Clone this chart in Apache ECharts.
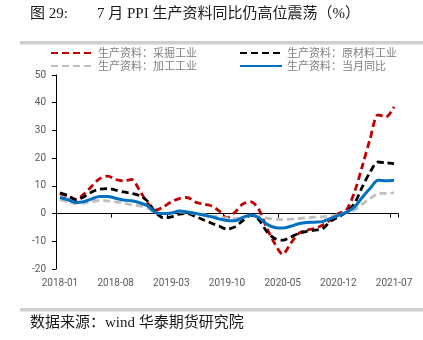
<!DOCTYPE html>
<html>
<head>
<meta charset="utf-8">
<script src="https://cdn.jsdelivr.net/npm/echarts@6/dist/echarts.min.js"></script>
<style>
html,body{margin:0;padding:0;background:#fff;}
#chart{width:423px;height:340px;}
</style>
</head>
<body>
<div id="chart"></div>
<script>
const categories = [
  '2018-01','2018-02','2018-03','2018-04','2018-05','2018-06','2018-07','2018-08','2018-09','2018-10','2018-11','2018-12',
  '2019-01','2019-02','2019-03','2019-04','2019-05','2019-06','2019-07','2019-08','2019-09','2019-10','2019-11','2019-12',
  '2020-01','2020-02','2020-03','2020-04','2020-05','2020-06','2020-07','2020-08','2020-09','2020-10','2020-11','2020-12',
  '2021-01','2021-02','2021-03','2021-04','2021-05','2021-06','2021-07'
];
const mining = [7.2,6.3,5.1,7.0,9.9,12.6,13.5,12.3,11.8,12.3,8.4,3.9,
  1.2,2.4,4.2,5.4,5.8,4.2,3.4,2.8,1.0,-1.5,0.5,3.5,
  4.2,1.5,-5.2,-10.8,-14.7,-10.8,-7.2,-6.0,-5.4,-4.2,-2.2,0.0,
  1.2,7.5,17.0,27.0,35.6,34.9,38.5];
const rawMaterial = [7.5,6.5,5.0,6.0,7.8,8.8,9.0,8.5,7.8,7.3,6.5,4.5,
  0.5,-1.5,-1.2,-0.2,0.0,-1.0,-2.2,-3.4,-4.5,-5.6,-4.8,-2.5,
  -0.6,-2.2,-6.5,-9.0,-9.6,-8.5,-7.2,-6.4,-6.0,-5.5,-2.8,-1.2,
  0.5,3.5,9.5,15.0,18.6,18.3,18.0];
const processing = [5.0,4.2,3.6,3.8,4.3,4.7,4.6,4.2,3.8,3.2,2.8,2.0,
  0.3,0.0,0.1,0.6,0.4,0.0,-0.3,-0.8,-1.2,-1.6,-1.8,-1.3,
  -0.6,-1.0,-1.6,-2.0,-2.2,-2.0,-1.8,-1.5,-1.3,-1.2,-0.9,-0.4,
  0.5,1.2,3.4,5.4,7.2,7.3,7.5];
const producerGoods = [5.8,5.0,4.0,4.3,5.3,6.2,6.2,5.5,4.9,4.6,3.9,2.8,
  0.4,0.0,0.2,0.9,0.6,0.1,-0.5,-1.1,-1.9,-2.5,-2.6,-1.4,
  -0.5,-1.5,-3.8,-5.0,-5.2,-4.6,-3.7,-3.2,-3.1,-2.9,-1.8,-0.6,
  0.4,2.3,5.8,9.1,12.0,11.8,12.0];
const seriesNames = ['生产资料：采掘工业','生产资料：原材料工业','生产资料：加工工业','生产资料：当月同比'];
const yTicks = {min:-20, max:50, interval:10};
const titleLabel = '图 29:';
const titleText = '7 月 PPI 生产资料同比仍高位震荡（%）';
const sourceText = '数据来源：wind 华泰期货研究院';

const chart = echarts.init(document.getElementById('chart'), null, {renderer:'canvas'});
const dash = [7,4];
const serifFont = '"Liberation Serif","Noto Sans CJK SC",serif';
const axisFont = 'Roboto, "Liberation Sans", sans-serif';
const legendText = {color:'#7f7f7f', fontSize:11, fontFamily:'"Noto Sans CJK SC", sans-serif', lineHeight:12};

const option = {
  animation:false,
  backgroundColor:'#ffffff',
  graphic:[
    {type:'text', left:30, top:7, style:{text:titleLabel, font:'15px ' + serifFont, fill:'#1a1a1a'}},
    {type:'text', left:97, top:7, style:{text:titleText, font:'15px ' + serifFont, fill:'#1a1a1a'}},
    {type:'rect', shape:{x:20, y:41, width:403, height:3.5}, style:{fill:'#cfcfcf'}},
    {type:'rect', shape:{x:20, y:308, width:403, height:3.5}, style:{fill:'#cfcfcf'}},
    {type:'text', left:30, top:316, style:{text:sourceText, font:'15px ' + serifFont, fill:'#1a1a1a'}}
  ],
  legend:[
    {left:50, top:47, padding:0, orient:'vertical', itemWidth:42, itemHeight:12, itemGap:1,
     itemStyle:{opacity:0},
     data:[seriesNames[0], seriesNames[2]], textStyle:legendText},
    {left:239, top:47, padding:0, orient:'vertical', itemWidth:42, itemHeight:12, itemGap:1,
     itemStyle:{opacity:0},
     data:[seriesNames[1], seriesNames[3]], textStyle:legendText}
  ],
  grid:{left:56, right:25, top:75, bottom:71, containLabel:false},
  xAxis:[
    {type:'category', data:categories, boundaryGap:true, position:'bottom',
     axisLine:{onZero:true, lineStyle:{color:'#000', width:1}},
     axisTick:{show:true, interval:6, length:4, lineStyle:{color:'#000'}},
     axisLabel:{show:false}, splitLine:{show:false}},
    {type:'category', data:categories, boundaryGap:true, position:'bottom',
     axisLine:{show:false, onZero:false}, axisTick:{show:false},
     axisLabel:{show:true, interval:6, margin:9, color:'#595959', fontSize:10, fontFamily:axisFont},
     splitLine:{show:false}}
  ],
  yAxis:{type:'value', min:yTicks.min, max:yTicks.max, interval:yTicks.interval,
    axisLine:{show:true, onZero:false, lineStyle:{color:'#000', width:1}},
    axisTick:{show:true, length:4, lineStyle:{color:'#000'}},
    axisLabel:{margin:10, color:'#595959', fontSize:10, fontFamily:axisFont},
    splitLine:{show:false}},
  series:[
    {name:seriesNames[0], type:'line', data:mining, symbol:'none', smooth:0.3,
     lineStyle:{color:'#c00000', width:2.8, type:dash}, itemStyle:{color:'#c00000'}},
    {name:seriesNames[1], type:'line', data:rawMaterial, symbol:'none', smooth:0.3,
     lineStyle:{color:'#000000', width:2.8, type:dash}, itemStyle:{color:'#000000'}},
    {name:seriesNames[2], type:'line', data:processing, symbol:'none', smooth:0.3,
     lineStyle:{color:'#bfbfbf', width:2.8, type:dash}, itemStyle:{color:'#bfbfbf'}},
    {name:seriesNames[3], type:'line', data:producerGoods, symbol:'none', smooth:0.3,
     lineStyle:{color:'#0070c0', width:3, type:'solid'}, itemStyle:{color:'#0070c0'}}
  ]
};
chart.setOption(option);
</script>
</body>
</html>
